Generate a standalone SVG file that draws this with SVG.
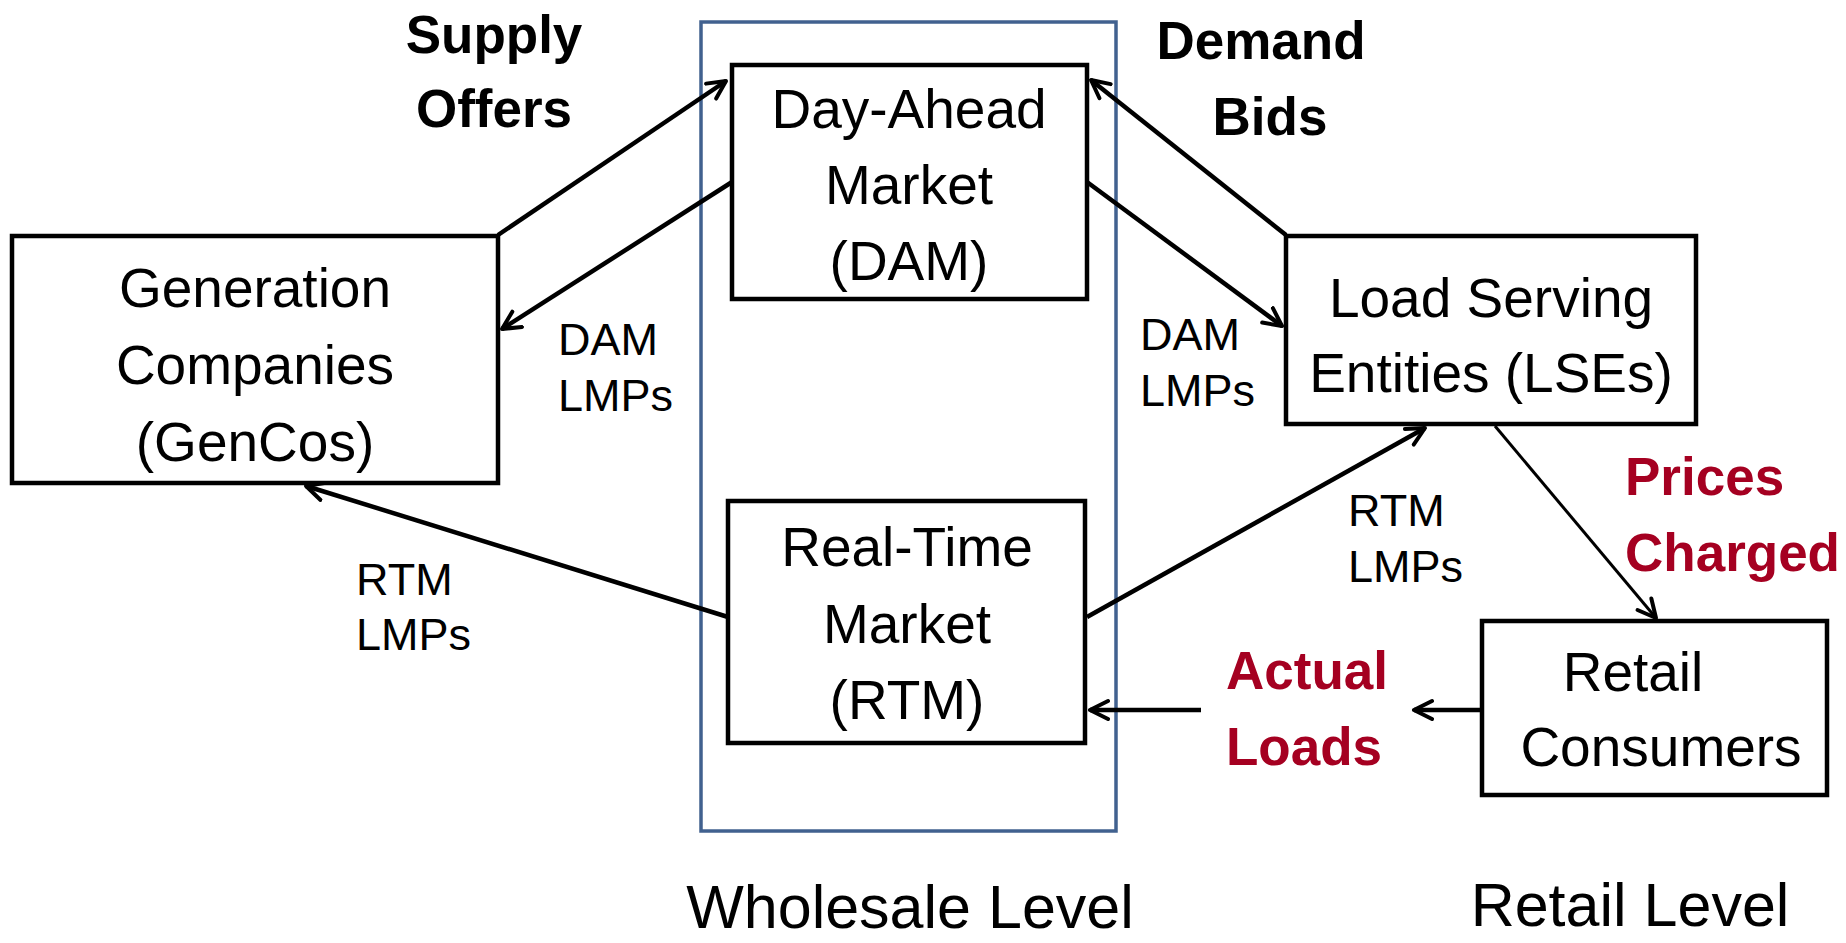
<svg xmlns="http://www.w3.org/2000/svg" width="1846" height="943" viewBox="0 0 1846 943">
<style>
.box{fill:#fff;stroke:#000;stroke-width:4.5}
.node{font-family:"Liberation Sans",Arial,sans-serif;font-size:55px;fill:#000;text-anchor:middle}
.lbl{font-family:"Liberation Sans",Arial,sans-serif;font-size:45px;fill:#000}
.bold{font-family:"Liberation Sans",Arial,sans-serif;font-size:53px;font-weight:bold;fill:#000}
.red{fill:#A50021}
.conn{stroke:#000;stroke-width:4.5;fill:none;marker-end:url(#arr)}
.level{font-family:"Liberation Sans",Arial,sans-serif;font-size:61px;fill:#000;text-anchor:middle}
</style>
<defs>
<marker id="arr" markerUnits="userSpaceOnUse" markerWidth="30" markerHeight="30" refX="20" refY="10" orient="auto" viewBox="0 0 30 20">
<path d="M2,1 L20,10 L2,19" fill="none" stroke="#000" stroke-width="4" stroke-linecap="round" stroke-linejoin="round"/>
</marker>
</defs>
<rect width="1846" height="943" fill="#fff"/>
<rect id="wholesale" x="701" y="22" width="415" height="809" fill="none" stroke="#41618F" stroke-width="3.5"/>
<g id="connectors">
<line class="conn" x1="498" y1="235" x2="726" y2="81"/>
<line class="conn" x1="732" y1="182" x2="502" y2="329"/>
<line class="conn" x1="1286" y1="235" x2="1091" y2="80"/>
<line class="conn" x1="1087" y1="182" x2="1282" y2="326"/>
<line class="conn" x1="728" y1="617" x2="306" y2="486"/>
<line class="conn" x1="1087" y1="617" x2="1425" y2="428"/>
<line class="conn" x1="1495" y1="426" x2="1656" y2="618" style="stroke-width:3"/>
<line class="conn" x1="1492" y1="710" x2="1414" y2="710"/>
<line class="conn" x1="1201" y1="710" x2="1090" y2="710"/>
</g>
<g id="gencos">
<rect class="box" x="12" y="236" width="486" height="247"/>
<text class="node" x="255" y="307">Generation</text>
<text class="node" x="255" y="384">Companies</text>
<text class="node" x="255" y="461">(GenCos)</text>
</g>
<g id="dam">
<rect class="box" x="732" y="65" width="355" height="234"/>
<text class="node" x="909" y="128">Day-Ahead</text>
<text class="node" x="909" y="204">Market</text>
<text class="node" x="909" y="280">(DAM)</text>
</g>
<g id="rtm">
<rect class="box" x="728" y="501" width="357" height="242"/>
<text class="node" x="907" y="566">Real-Time</text>
<text class="node" x="907" y="643">Market</text>
<text class="node" x="907" y="719">(RTM)</text>
</g>
<g id="lses">
<rect class="box" x="1286" y="236" width="410" height="188"/>
<text class="node" x="1491" y="317">Load Serving</text>
<text class="node" x="1491" y="392">Entities (LSEs)</text>
</g>
<g id="retail">
<rect class="box" x="1482" y="621" width="345" height="174"/>
<text class="node" x="1633" y="691">Retail</text>
<text class="node" x="1661" y="766">Consumers</text>
</g>
<g id="labels">
<text class="bold" x="494" y="53" text-anchor="middle">Supply</text>
<text class="bold" x="494" y="127" text-anchor="middle">Offers</text>
<text class="bold" x="1261" y="59" text-anchor="middle">Demand</text>
<text class="bold" x="1270" y="135" text-anchor="middle">Bids</text>
<text class="lbl" x="558" y="355">DAM</text>
<text class="lbl" x="558" y="411">LMPs</text>
<text class="lbl" x="1140" y="350">DAM</text>
<text class="lbl" x="1140" y="406">LMPs</text>
<text class="lbl" x="356" y="595">RTM</text>
<text class="lbl" x="356" y="650">LMPs</text>
<text class="lbl" x="1348" y="526">RTM</text>
<text class="lbl" x="1348" y="582">LMPs</text>
<text class="bold red" x="1625" y="495">Prices</text>
<text class="bold red" x="1625" y="571">Charged</text>
<text class="bold red" x="1226" y="689">Actual</text>
<text class="bold red" x="1226" y="765">Loads</text>
<text class="level" x="910" y="928">Wholesale Level</text>
<text class="level" x="1630" y="926">Retail Level</text>
</g>
</svg>
